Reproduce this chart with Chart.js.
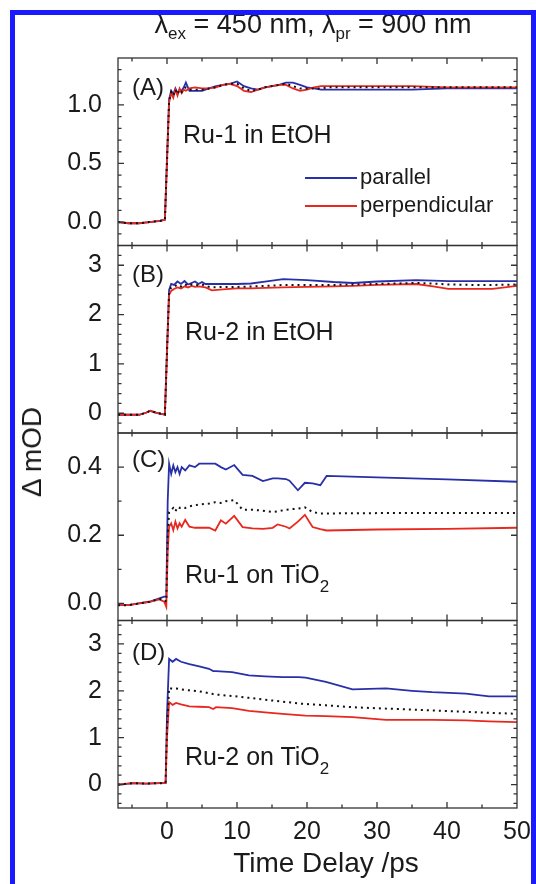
<!DOCTYPE html>
<html>
<head>
<meta charset="utf-8">
<script src="https://cdn.jsdelivr.net/npm/chart.js@4.4.1/dist/chart.umd.min.js"></script>
<style>
  body { margin: 0; background: #fff; }
  #wrap { position: relative; width: 536px; height: 884px; overflow: hidden;
          font-family: "Liberation Sans", Arial, sans-serif; color: #1a1a1a; }
  #frame { position: absolute; left: 10px; top: 10px; width: 526px; height: 884px;
           border: 5px solid #1a1aff; box-sizing: border-box; z-index: 3; }
  canvas { position: absolute; left: 0; top: 0; }
  .t { position: absolute; white-space: nowrap; line-height: 1; z-index: 2; }
  .t sub { line-height: 1; }
  .key { position: absolute; height: 2px; width: 52px; z-index: 2; }
</style>
</head>
<body>
<div id="wrap">
  <canvas id="chart" width="536" height="884"></canvas>
  <div class="t" style="left:313px;top:11px;font-size:27px;transform:translateX(-50%)">λ<sub style="font-size:17px;vertical-align:-6px">ex</sub> = 450 nm, λ<sub style="font-size:17px;vertical-align:-6px">pr</sub> = 900 nm</div>
  <div class="t" style="left:32px;top:452px;font-size:28px;transform:translate(-50%,-50%) rotate(-90deg)">Δ mOD</div>
  <div class="t" style="left:326px;top:849px;font-size:28px;transform:translateX(-50%)">Time Delay /ps</div>

  <div class="t" style="left:132px;top:75px;font-size:24px">(A)</div>
  <div class="t" style="left:183px;top:122px;font-size:25px">Ru-1 in EtOH</div>
  <div class="key" style="left:305px;top:177px;background:#2830a8"></div>
  <div class="t" style="left:360px;top:166px;font-size:22px">parallel</div>
  <div class="key" style="left:305px;top:205px;background:#e8281e"></div>
  <div class="t" style="left:360px;top:194px;font-size:22px">perpendicular</div>

  <div class="t" style="left:132px;top:262px;font-size:24px">(B)</div>
  <div class="t" style="left:185px;top:319px;font-size:25px">Ru-2 in EtOH</div>

  <div class="t" style="left:132px;top:447px;font-size:24px">(C)</div>
  <div class="t" style="left:185px;top:562px;font-size:25px">Ru-1 on TiO<sub style="font-size:17px;vertical-align:-9px">2</sub></div>

  <div class="t" style="left:132px;top:640px;font-size:24px">(D)</div>
  <div class="t" style="left:185px;top:744px;font-size:25px">Ru-2 on TiO<sub style="font-size:17px;vertical-align:-9px">2</sub></div>
  <div id="frame"></div>
</div>
<script>
// (A) Ru-1 in EtOH
const timeA = [-7, -5.5, -4, -2.5, -1, -0.3, 0, 0.3, 0.6, 0.9, 1.2, 1.5, 1.8, 2.1, 2.4, 2.7,
  3.2, 4, 5, 6, 7, 8, 9, 10, 11, 12, 13, 14, 15, 16, 17, 18, 19, 20, 21, 22, 23, 25, 30, 35, 40, 45, 50];
const parA = [0.00, -0.01, -0.01, 0.00, 0.01, 0.02, 0.55, 1.05, 1.12, 1.09, 1.14, 1.10, 1.13, 1.12, 1.15, 1.19,
  1.12, 1.12, 1.12, 1.14, 1.16, 1.17, 1.18, 1.20, 1.16, 1.14, 1.13, 1.15, 1.16, 1.17, 1.19, 1.19, 1.17, 1.15, 1.14, 1.13, 1.13,
  1.13, 1.13, 1.13, 1.14, 1.14, 1.14];
const perpA = [0.00, -0.01, -0.01, 0.00, 0.01, 0.02, 0.50, 1.02, 1.10, 1.06, 1.13, 1.08, 1.14, 1.10, 1.13, 1.12,
  1.14, 1.15, 1.14, 1.14, 1.15, 1.17, 1.18, 1.16, 1.12, 1.11, 1.13, 1.15, 1.16, 1.17, 1.17, 1.14, 1.12, 1.13, 1.15, 1.16, 1.16,
  1.16, 1.16, 1.16, 1.15, 1.15, 1.15];
const avgA = [0.00, -0.01, -0.01, 0.00, 0.01, 0.02, 0.52, 1.03, 1.11, 1.08, 1.13, 1.09, 1.13, 1.11, 1.14, 1.15,
  1.13, 1.13, 1.13, 1.14, 1.15, 1.17, 1.18, 1.18, 1.14, 1.12, 1.13, 1.15, 1.16, 1.17, 1.18, 1.16, 1.14, 1.14, 1.14, 1.14, 1.15,
  1.15, 1.15, 1.15, 1.15, 1.15, 1.15];

// (B) Ru-2 in EtOH
const timeB = [-7, -5.5, -4, -3, -2.4, -1.5, -0.3, 0, 0.3, 0.6, 1, 1.5, 2, 2.5, 3, 3.5, 4, 4.5, 5, 5.5,
  6.4, 8, 10, 12, 14, 16.6, 20, 23.8, 26.6, 30, 35.6, 38, 40.2, 44, 46.5, 50];
const parB = [-0.03, -0.03, -0.03, 0.01, 0.05, 0.01, -0.03, 1.3, 2.50, 2.62, 2.60, 2.67, 2.62, 2.68, 2.61, 2.64, 2.67, 2.62, 2.66, 2.62,
  2.62, 2.62, 2.62, 2.63, 2.67, 2.72, 2.70, 2.66, 2.64, 2.67, 2.70, 2.69, 2.68, 2.68, 2.68, 2.68];
const perpB = [-0.03, -0.03, -0.03, 0.01, 0.05, 0.01, -0.03, 1.2, 2.40, 2.48, 2.52, 2.55, 2.53, 2.57, 2.55, 2.58, 2.56, 2.57, 2.56, 2.55,
  2.49, 2.51, 2.53, 2.53, 2.54, 2.55, 2.56, 2.57, 2.58, 2.60, 2.62, 2.57, 2.52, 2.52, 2.52, 2.58];
const avgB = [-0.03, -0.03, -0.03, 0.01, 0.05, 0.01, -0.03, 1.25, 2.45, 2.55, 2.56, 2.61, 2.57, 2.62, 2.58, 2.61, 2.61, 2.59, 2.61, 2.58,
  2.55, 2.56, 2.56, 2.57, 2.58, 2.60, 2.60, 2.60, 2.61, 2.62, 2.64, 2.63, 2.61, 2.60, 2.60, 2.61];

// (C) Ru-1 on TiO2
const timeC = [-7, -5.5, -4, -2.5, -1.1, -0.4, -0.1, 0.1, 0.3, 0.6, 0.9, 1.2, 1.5, 1.8, 2.1, 2.6,
  3.2, 4, 4.6, 6, 6.9, 7.7, 8.4, 9.6, 10.8, 12.2, 13.7, 15.1, 15.8, 17, 17.5, 18.7, 19.7, 20.8, 21.9, 22.8, 30, 40, 50];
const parC = [-0.005, -0.005, 0.0, 0.005, 0.015, 0.02, 0.02, 0.30, 0.41, 0.38, 0.405, 0.385, 0.40, 0.38, 0.40, 0.39,
  0.405, 0.40, 0.41, 0.41, 0.41, 0.40, 0.393, 0.406, 0.377, 0.374, 0.359, 0.367, 0.367, 0.365, 0.36, 0.332, 0.354, 0.352, 0.347, 0.374,
  0.370, 0.364, 0.357];
const perpC = [-0.005, -0.005, 0.0, 0.005, 0.012, 0.005, -0.01, 0.15, 0.225, 0.235, 0.215, 0.24, 0.22, 0.235, 0.225, 0.245,
  0.225, 0.222, 0.222, 0.222, 0.214, 0.244, 0.234, 0.257, 0.224, 0.22, 0.219, 0.222, 0.232, 0.225, 0.22, 0.24, 0.26, 0.224, 0.218, 0.214,
  0.217, 0.219, 0.222];
const avgC = [-0.005, -0.005, 0.0, 0.005, 0.013, 0.012, 0.005, 0.20, 0.268, 0.275, 0.28, 0.27, 0.283, 0.28, 0.283, 0.28,
  0.285, 0.288, 0.29, 0.293, 0.297, 0.295, 0.30, 0.303, 0.275, 0.275, 0.272, 0.268, 0.27, 0.275, 0.276, 0.278, 0.282, 0.268, 0.264, 0.264,
  0.265, 0.265, 0.265];

// (D) Ru-2 on TiO2
const timeD = [-7, -4.8, -3, -1, -0.2, 0, 0.3, 0.8, 1.3, 2, 3.2, 4.6, 6, 6.6, 7, 9.3, 11.7, 14, 16.5, 18.8,
  19.8, 22.7, 26.5, 31.3, 35, 37.9, 42.7, 46, 50];
const parD = [0.0, 0.03, 0.02, 0.03, 0.03, 1.5, 2.68, 2.62, 2.68, 2.62, 2.57, 2.52, 2.47, 2.42, 2.42, 2.40, 2.33, 2.31, 2.29, 2.29,
  2.28, 2.19, 2.03, 2.05, 2.00, 1.97, 1.94, 1.88, 1.88];
const perpD = [0.0, 0.03, 0.02, 0.03, 0.03, 1.0, 1.76, 1.70, 1.74, 1.71, 1.67, 1.66, 1.65, 1.61, 1.65, 1.63, 1.57, 1.54, 1.51, 1.48,
  1.47, 1.46, 1.44, 1.38, 1.38, 1.38, 1.37, 1.35, 1.33];
const avgD = [0.0, 0.03, 0.02, 0.03, 0.03, 1.2, 2.06, 2.04, 2.05, 2.03, 2.01, 1.99, 1.95, 1.93, 1.92, 1.89, 1.85, 1.81, 1.77, 1.73,
  1.72, 1.69, 1.65, 1.62, 1.60, 1.58, 1.55, 1.53, 1.51];

// tick labels
const xTicks = [0, 10, 20, 30, 40, 50];
const yTicksA = [0, 0.5, 1.0];
const yTicksB = [0, 1, 2, 3];
const yTicksC = [0, 0.2, 0.4];
const yTicksD = [0, 1, 2, 3];

const BLUE = '#2830a8', RED = '#e8281e';
const tickFont = { family: '"Liberation Sans", Arial, sans-serif', size: 25 };

// panel axes: id, range, major and minor tick steps
const panels = [
  { id: 'yA', min: -0.2, max: 1.4, major: 0.5, minor: 0.1, ticks: yTicksA, digits: 1 },
  { id: 'yB', min: -0.4, max: 3.4, major: 1, minor: 0.2, ticks: yTicksB, digits: 0 },
  { id: 'yC', min: -0.05, max: 0.5, major: 0.2, minor: 0.1, ticks: yTicksC, digits: 1 },
  { id: 'yD', min: -0.5, max: 3.5, major: 1, minor: 0.2, ticks: yTicksD, digits: 0 }
];

function pts(t, v) {
  return t.map((x, i) => ({ x: x, y: v[i] }));
}

function series(t, par, perp, avg, axis) {
  return [
    { data: pts(t, avg), yAxisID: axis, borderColor: '#111', borderWidth: 2, borderDash: [2, 4], order: 0 },
    { data: pts(t, perp), yAxisID: axis, borderColor: RED, borderWidth: 1.8, order: 1 },
    { data: pts(t, par), yAxisID: axis, borderColor: BLUE, borderWidth: 1.8, order: 2 }
  ];
}

function yScale(p) {
  return {
    type: 'linear', position: 'left', stack: 'panels', stackWeight: 1,
    min: p.min, max: p.max,
    grid: { display: false }, border: { display: false },
    afterBuildTicks: s => { s.ticks = p.ticks.map(v => ({ value: v })); },
    afterFit: s => { s.width = 118; },
    ticks: { font: tickFont, color: '#1a1a1a', padding: 8, callback: v => v.toFixed(p.digits) }
  };
}

// frame boxes and inward ticks on all four sides of every panel
const frameTicks = {
  id: 'frameTicks',
  afterDatasetsDraw(chart) {
    const ctx = chart.ctx;
    const x = chart.scales.x;
    ctx.save();
    ctx.strokeStyle = '#333';
    ctx.lineWidth = 1.3;
    panels.forEach(p => {
      const s = chart.scales[p.id];
      ctx.strokeRect(x.left, s.top, x.right - x.left, s.bottom - s.top);
      ctx.beginPath();
      for (let k = Math.ceil(p.min / p.minor - 1e-6); k * p.minor <= p.max + 1e-6; k++) {
        const v = k * p.minor;
        const py = s.getPixelForValue(v);
        if (py <= s.top + 1 || py >= s.bottom - 1) continue;
        const len = Math.abs(v / p.major - Math.round(v / p.major)) < 1e-6 ? 6 : 3.5;
        ctx.moveTo(x.left, py); ctx.lineTo(x.left + len, py);
        ctx.moveTo(x.right, py); ctx.lineTo(x.right - len, py);
      }
      for (let v = -5; v < 50; v += 5) {
        const px = x.getPixelForValue(v);
        const len = v % 10 === 0 ? 6 : 3.5;
        ctx.moveTo(px, s.top); ctx.lineTo(px, s.top + len);
        ctx.moveTo(px, s.bottom); ctx.lineTo(px, s.bottom - len);
      }
      ctx.stroke();
    });
    ctx.restore();
  }
};

new Chart(document.getElementById('chart'), {
  type: 'line',
  data: {
    datasets: [
      ...series(timeA, parA, perpA, avgA, 'yA'),
      ...series(timeB, parB, perpB, avgB, 'yB'),
      ...series(timeC, parC, perpC, avgC, 'yC'),
      ...series(timeD, parD, perpD, avgD, 'yD')
    ]
  },
  options: {
    responsive: false,
    devicePixelRatio: 1,
    animation: false,
    layout: { padding: { left: 0, right: 19, top: 58, bottom: 0 } },
    elements: { point: { radius: 0 }, line: { tension: 0, fill: false } },
    plugins: { legend: { display: false }, tooltip: { enabled: false } },
    scales: {
      x: {
        type: 'linear', min: -7, max: 50,
        grid: { display: false }, border: { display: false },
        afterBuildTicks: s => { s.ticks = xTicks.map(v => ({ value: v })); },
        afterFit: s => { s.height = 76; },
        ticks: { font: tickFont, color: '#1a1a1a', padding: 1, maxRotation: 0, autoSkip: false, callback: v => String(v) }
      },
      yD: yScale(panels[3]),
      yC: yScale(panels[2]),
      yB: yScale(panels[1]),
      yA: yScale(panels[0])
    }
  },
  plugins: [frameTicks]
});
</script>
</body>
</html>
